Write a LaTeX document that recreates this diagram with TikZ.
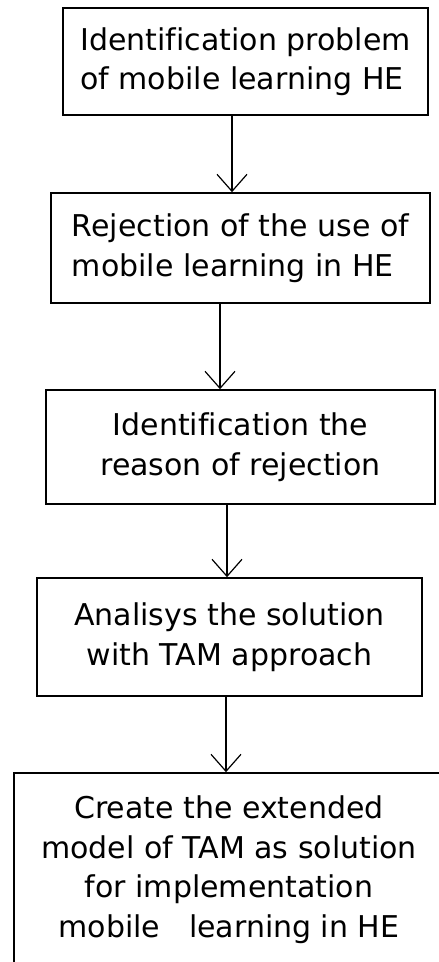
\documentclass[tikz,border=0pt]{standalone}
\usepackage{fontspec}
\setmainfont{DejaVu Sans}[Ligatures=CommonOff]
\usetikzlibrary{arrows.meta}
\tikzset{
  stage/.style={draw, rectangle, line width=1.6pt, inner sep=0pt,
    font=\fontsize{30}{39.5}\selectfont},
  flow/.style={line width=1.2pt,
    -{Straight Barb[length=17pt,width=30pt,line width=1.2pt]}},
}
\begin{document}
\begin{tikzpicture}[x=1pt,y=1pt]
      \useasboundingbox (0,0) rectangle (439,-962);
      \clip (0,0) rectangle (439,-962);
      \draw
        (245.5,-61.5) node[stage,align=left,minimum width=365pt,minimum height=107pt] (idprob)
          {Identification problem\\of mobile learning HE}
        (240.5,-248) node[stage,align=left,minimum width=379pt,minimum height=110pt] (reject)
          {Rejection of the use of\\mobile learning in HE}
        (240.5,-447) node[stage,align=center,minimum width=389pt,minimum height=114pt] (reason)
          {Identification the\\reason of rejection}
        (229.5,-637) node[stage,align=center,minimum width=385pt,minimum height=118pt] (tam)
          {Analisys the solution\\with TAM approach}
        (229,-869.5) node[stage,align=center,minimum width=430pt,minimum height=193pt] (model)
          {Create the extended\\model of TAM as solution\\for implementation\\mobile\ \ \ learning in HE};
      \begin{scope}[flow]
        \draw (idprob.south -| 232,0) to (reject.north -| 232,0);
        \draw (reject.south -| 220,0) to (reason.north -| 220,0);
        \draw (reason.south -| 227,0) to (tam.north -| 227,0);
        \draw (tam.south -| 226,0) to (model.north -| 226,0);
      \end{scope}
    \end{tikzpicture}
\end{document}
